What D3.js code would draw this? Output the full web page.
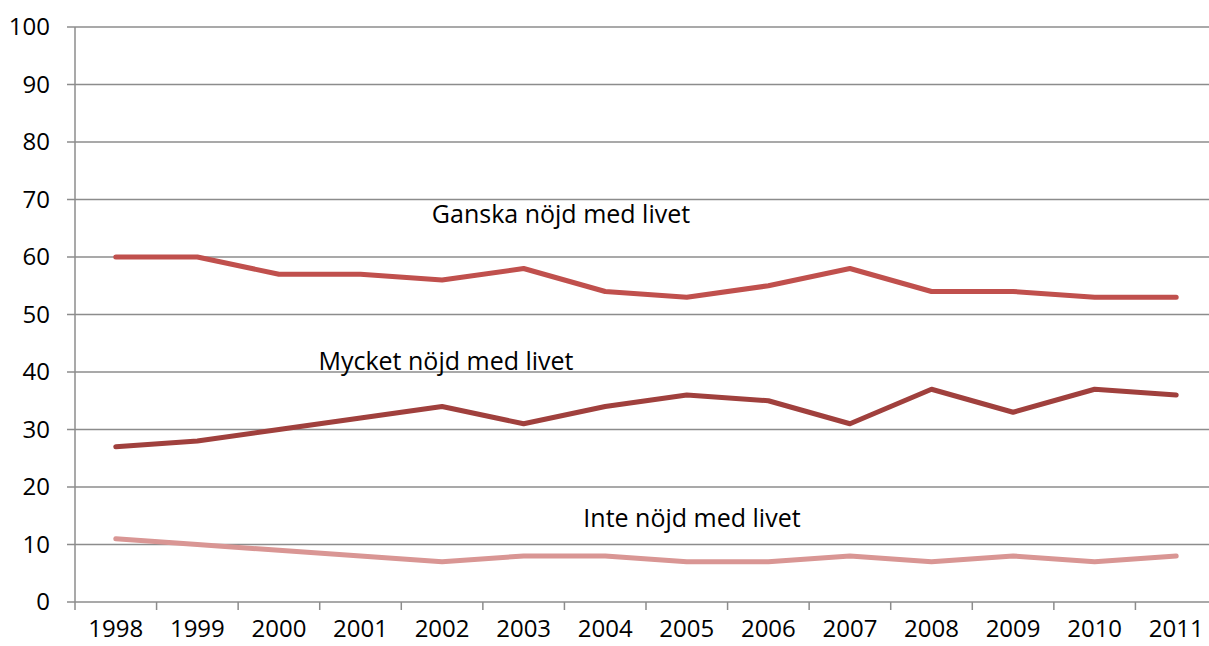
<!doctype html>
<html lang="sv">
  <head>
    <meta charset="utf-8">
    <title>Nöjd med livet</title>
    <style>
      body { margin: 0; background: #fff; }
      text { font-family: "Open Sans", sans-serif; fill: #000; }
    </style>
  </head>
  <body>
    <div id="chart"></div>
    <script src="https://d3js.org/d3.v7.min.js"></script>
    <script>
    var years = ["1998", "1999", "2000", "2001", "2002", "2003", "2004", "2005", "2006", "2007", "2008", "2009", "2010", "2011"];
    var ganska = [60, 60, 57, 57, 56, 58, 54, 53, 55, 58, 54, 54, 53, 53];
    var mycket = [27, 28, 30, 32, 34, 31, 34, 36, 35, 31, 37, 33, 37, 36];
    var inte = [11, 10, 9, 8, 7, 8, 8, 7, 7, 8, 7, 8, 7, 8];
    var yTicks = [0, 10, 20, 30, 40, 50, 60, 70, 80, 90, 100];

    var series = [
      {name: "Ganska nöjd med livet", values: ganska, color: "#c0504d", label: [561, 223]},
      {name: "Mycket nöjd med livet", values: mycket, color: "#a0403d", label: [446, 370]},
      {name: "Inte nöjd med livet", values: inte, color: "#d99694", label: [692, 527]}
    ];

    var width = 1209, height = 646;

    var svg = d3.select("#chart")
        .append("svg")
        .attr("width", width)
        .attr("height", height);

    // the plot runs a bit past the right edge in the original
    var x = d3.scaleBand().domain(years).range([75, 1217]);
    var y = d3.scaleLinear().domain([0, 100]).range([602, 27]);

    // gridlines
    svg.append("g")
        .selectAll("line")
        .data(yTicks)
        .join("line")
        .attr("x1", 67)
        .attr("x2", 1217)
        .attr("y1", function(d){ return y(d); })
        .attr("y2", function(d){ return y(d); })
        .attr("stroke", "#8c8c8c")
        .attr("stroke-width", 1.5);

    // y axis line
    svg.append("line")
        .attr("x1", 75).attr("x2", 75)
        .attr("y1", y(100)).attr("y2", y(0) + 8)
        .attr("stroke", "#8c8c8c")
        .attr("stroke-width", 1.5);

    // x ticks between categories
    svg.append("g")
        .selectAll("line")
        .data(years.slice(1))
        .join("line")
        .attr("x1", function(d){ return x(d); })
        .attr("x2", function(d){ return x(d); })
        .attr("y1", y(0))
        .attr("y2", y(0) + 8)
        .attr("stroke", "#8c8c8c")
        .attr("stroke-width", 1.5);

    svg.append("g")
        .selectAll("text")
        .data(yTicks)
        .join("text")
        .attr("x", 50)
        .attr("y", function(d){ return y(d); })
        .attr("dy", "0.35em")
        .attr("text-anchor", "end")
        .attr("font-size", 24)
        .text(function(d){ return d; });

    svg.append("g")
        .selectAll("text")
        .data(years)
        .join("text")
        .attr("x", function(d){ return x(d) + x.bandwidth() / 2; })
        .attr("y", 637)
        .attr("text-anchor", "middle")
        .attr("font-size", 24)
        .text(function(d){ return d; });

    var line = d3.line()
        .x(function(d, i){ return x(years[i]) + x.bandwidth() / 2; })
        .y(function(d){ return y(d); });

    svg.append("g")
        .selectAll("path")
        .data(series)
        .join("path")
        .attr("d", function(s){ return line(s.values); })
        .attr("fill", "none")
        .attr("stroke", function(s){ return s.color; })
        .attr("stroke-width", 5)
        .attr("stroke-linejoin", "round")
        .attr("stroke-linecap", "round");

    svg.append("g")
        .selectAll("text")
        .data(series)
        .join("text")
        .attr("x", function(s){ return s.label[0]; })
        .attr("y", function(s){ return s.label[1]; })
        .attr("text-anchor", "middle")
        .attr("font-size", 25)
        .text(function(s){ return s.name; });
    </script>
  </body>
</html>
